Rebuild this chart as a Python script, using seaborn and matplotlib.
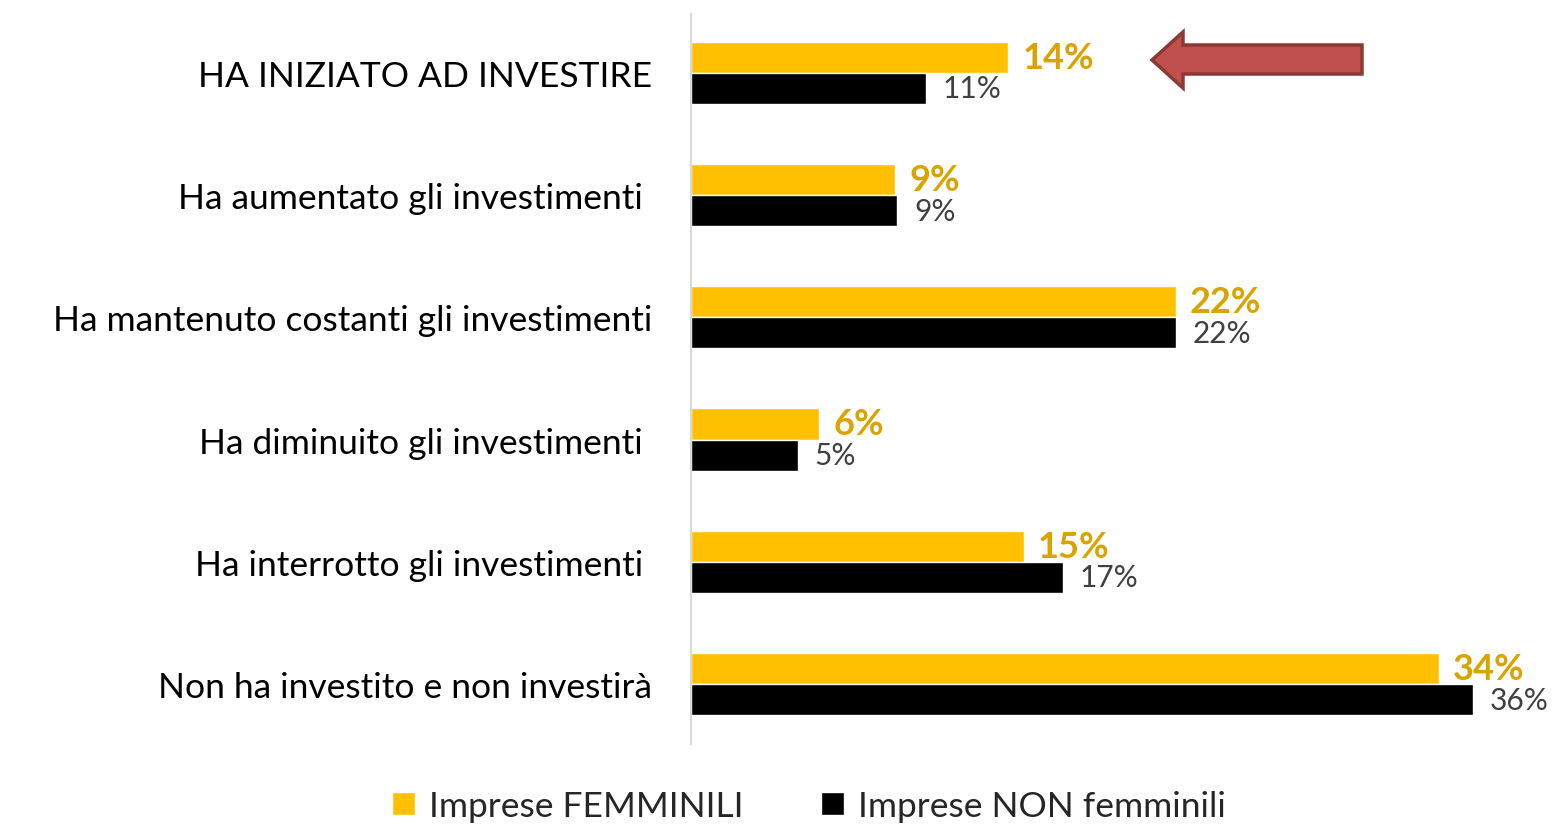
import matplotlib
matplotlib.use("Agg")
import matplotlib.pyplot as plt
from matplotlib.patches import Polygon, Patch
import seaborn as sns
import pandas as pd

categories = [
    "HA INIZIATO AD INVESTIRE",
    "Ha aumentato gli investimenti ",
    "Ha mantenuto costanti gli investimenti",
    "Ha diminuito gli investimenti ",
    "Ha interrotto gli investimenti ",
    "Non ha investito e non investirà",
]
series_names = ["Imprese FEMMINILI", "Imprese NON femminili"]
femminili = [14.6, 9.4, 22.3, 5.9, 15.3, 34.4]
non_femminili = [10.8, 9.5, 22.3, 4.9, 17.1, 36.0]
femminili_labels = ["14%", "9%", "22%", "6%", "15%", "34%"]
non_femminili_labels = ["11%", "9%", "22%", "5%", "17%", "36%"]

colors = ["#FFC000", "#000000"]
label_colors = ["#DAA400", "#404040"]

sns.set_theme(style="white")
plt.rcParams["font.family"] = ["Lato", "DejaVu Sans"]

df = pd.DataFrame({
    "cat": categories * 2,
    "serie": [series_names[0]] * len(categories) + [series_names[1]] * len(categories),
    "val": femminili + non_femminili,
})

W, H = 1552, 828
fig = plt.figure(figsize=(W / 100, H / 100), dpi=100)
ax = fig.add_axes([691 / W, 1 - 745 / H, (1530 - 691) / W, (745 - 15) / H])

sns.barplot(data=df, y="cat", x="val", hue="serie", orient="h",
            palette=colors, width=0.51, ax=ax, legend=False,
            saturation=1, order=categories, hue_order=series_names)

ax.set_xlim(0, 38.6)
ax.set_ylim(5.49, -0.48)
ax.set_xlabel("")
ax.set_ylabel("")
ax.set_xticks([])
for s in ["top", "right", "bottom"]:
    ax.spines[s].set_visible(False)
ax.spines["left"].set_color("#D9D9D9")
ax.spines["left"].set_linewidth(1.5)
ax.tick_params(axis="y", length=0, pad=28, labelsize=25.5, labelcolor="#000000")

for cont, labs, lc, bold, off in zip(ax.containers,
                                     [femminili_labels, non_femminili_labels],
                                     label_colors, [True, False], [10, 12]):
    ax.bar_label(cont, labels=labs, padding=off, color=lc,
                 fontsize=26 if bold else 21.5,
                 fontweight="bold" if bold else "normal")

# arrow annotation
pts = [(1152, 61), (1183, 33), (1183, 46), (1362, 46), (1362, 75), (1183, 75), (1183, 89)]
poly = Polygon([(x / W, 1 - y / H) for x, y in pts], closed=True,
               transform=fig.transFigure, facecolor="#C0504D",
               edgecolor="#8C3836", linewidth=2.5)
fig.patches.append(poly)

handles = [Patch(facecolor=c, label=n) for c, n in zip(colors, series_names)]
fig.legend(handles=handles, loc="center", bbox_to_anchor=(809 / W, 1 - 807 / H),
           ncol=2, frameon=False, fontsize=25.5, handlelength=0.65,
           handleheight=0.65, handletextpad=0.4, columnspacing=2.2)

fig.savefig("out.png", dpi=100)
